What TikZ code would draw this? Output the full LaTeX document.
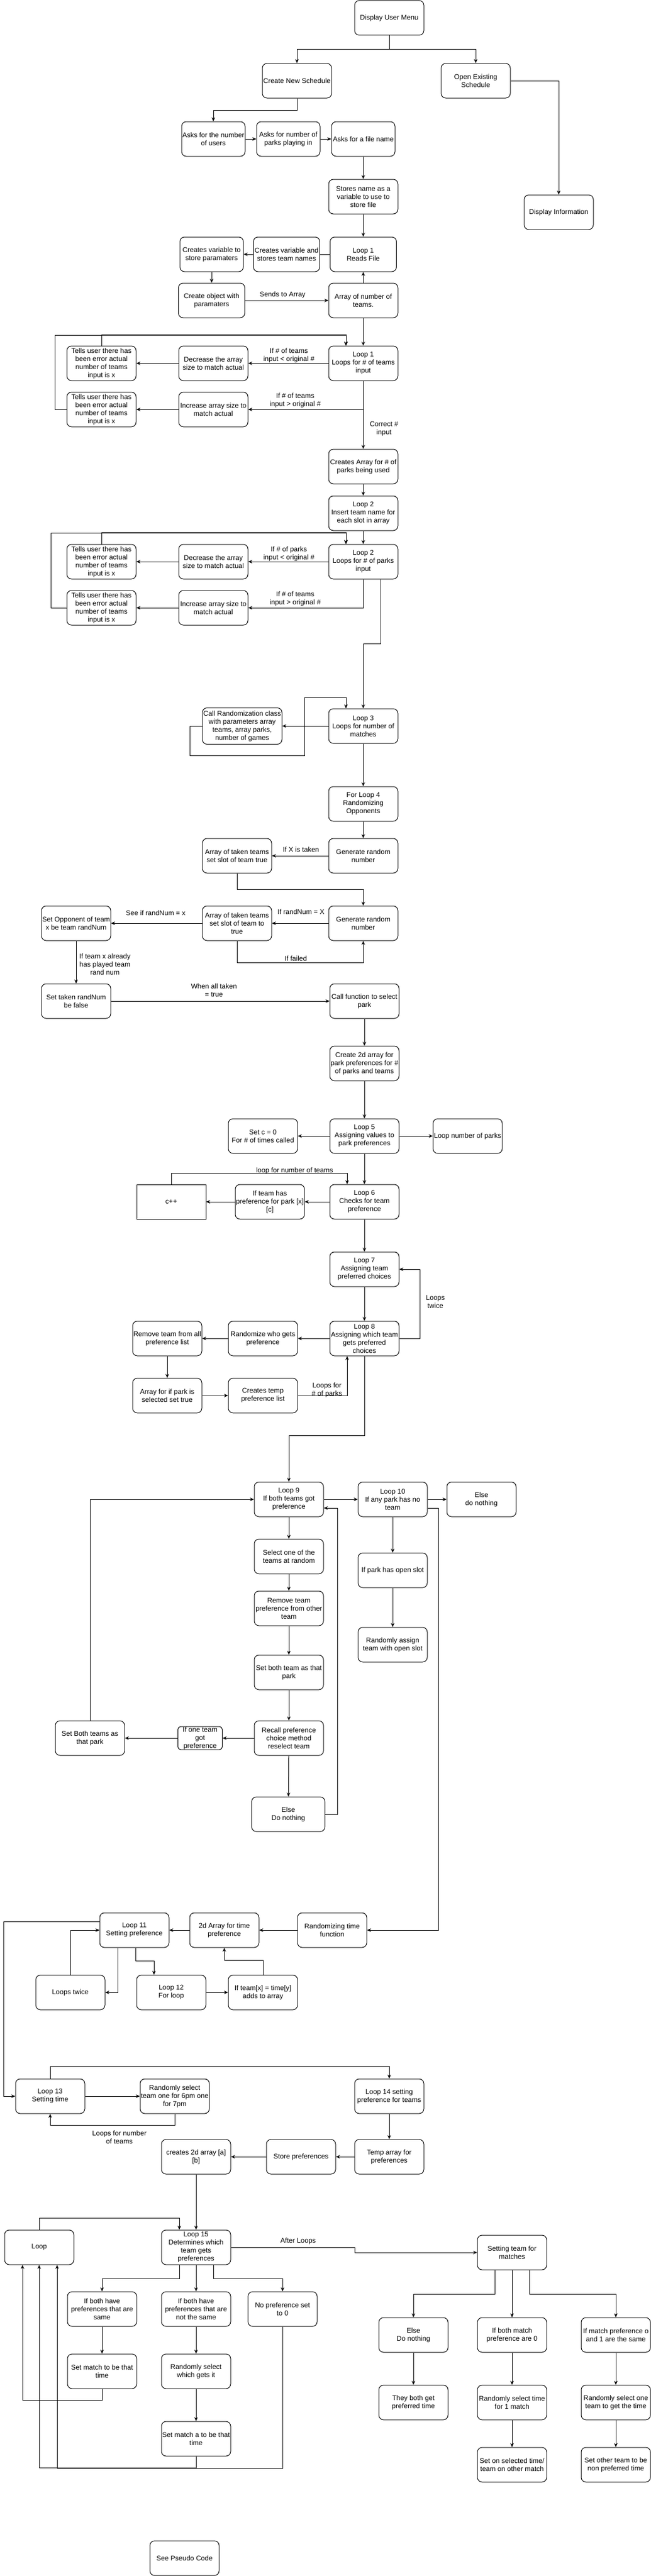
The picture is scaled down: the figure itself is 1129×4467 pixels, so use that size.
\documentclass[tikz,border=0pt]{standalone}
\usepackage{fontspec}
\setmainfont{Liberation Sans}
\usetikzlibrary{arrows.meta}

\tikzset{
  box/.style={draw, rounded corners=8pt, minimum width=120pt, minimum height=60pt,
    align=center, inner xsep=0pt, inner ysep=2pt, font=\fontsize{12}{14}\selectfont},
  lbl/.style={align=center, inner sep=0pt, font=\fontsize{12}{14}\selectfont},
  flow/.style={-{Stealth[length=7pt, width=6pt]}}
}

\begin{document}
\begin{tikzpicture}[x=1pt, y=-1pt, line width=1pt]
  \fill[white] (0, 0) rectangle (1129, 4467);
  \useasboundingbox (0, 0) rectangle (1129, 4467);

  % Menu
  \node[box] (dum) at (675, 31) {Display User Menu};
  \node[box] (cns) at (515, 140) {Create New Schedule};
  \node[box] (oes) at (825, 140) {Open Existing\\Schedule};
  \node[box] (dinfo) at (969, 368) {Display Information};
  \draw[flow] (dum.south) -- ++(0, 24) -| (cns.north);
  \draw[flow] (dum.south) -- ++(0, 24) -| (oes.north);
  \draw[flow] (oes.east) -| (dinfo.north);

  % Reading the input
  \node[box, minimum width=110pt] (askusr) at (370, 241) {Asks for the number\\of users};
  \node[box, minimum width=110pt] (askprk) at (500, 241) {Asks for number of\\parks playing in};
  \node[box, minimum width=110pt] (askfile) at (630, 241) {Asks for a file name};
  \node[box] (store) at (630, 341) {Stores name as a\\variable to use to\\store file};
  \node[box, minimum width=115pt] (readf) at (630, 441) {Loop 1\\Reads File};
  \node[box, minimum width=115pt] (mkteam) at (497, 441) {Creates variable and\\stores team names};
  \node[box, minimum width=110pt] (mkvar) at (367, 441) {Creates variable to\\store paramaters};
  \node[box, minimum width=115pt] (mkobj) at (367, 521) {Create object with\\paramaters};
  \node[box] (arrteam) at (630, 521) {Array of number of\\teams.};
  \draw[flow] (cns.south) -- ++(0, 21) -| (askusr.north);
  \draw[flow] (askusr) -- (askprk);
  \draw[flow] (askprk) -- (askfile);
  \draw[flow] (askfile) -- (store);
  \draw[flow] (store) -- (readf);
  \draw (readf) -- (mkteam);
  \draw[flow] (mkteam) -- (mkvar);
  \draw[flow] (mkvar) -- (mkobj);
  \draw[flow] (mkobj) -- (arrteam);
  \node[lbl] (lbsend) at (490, 511) {Sends to Array};
  \draw[flow] (arrteam) -- (readf);

  % Loop 1, number of teams
  \node[box] (loopa) at (630, 630) {Loop 1\\Loops for \# of teams\\input};
  \node[box] (deca) at (370, 630) {Decrease the array\\size to match actual};
  \node[box] (tella) at (176, 630) {Tells user there has\\been error actual\\number of teams\\input is x};
  \node[box] (inca) at (370, 710) {Increase array size to\\match actual};
  \node[box] (tellb) at (176, 710) {Tells user there has\\been error actual\\number of teams\\input is x};
  \draw[flow] (arrteam) -- (loopa);
  \draw[flow] (loopa) -- (deca);
  \draw[flow] (deca) -- (tella);
  \draw[flow] (loopa.south) |- (inca.east);
  \draw[flow] (inca) -- (tellb);
  \draw[flow] (tella.north) -- ++(0, -19) -| ([xshift=-30pt]loopa.north);
  \draw[flow] (tellb.west) -- ++(-20, 0) -- ++(0, -129) -| ([xshift=-30pt]loopa.north);
  \node[lbl] (lbtdec) at (501, 616) {If \# of teams\\input < original \#};
  \node[lbl] (lbtinc) at (512, 694) {If \# of teams\\input > original \#};
  \node[lbl] (lbok) at (666, 744) {Correct \#\\input};

  % Loop 2, number of parks
  \node[box] (arrpark) at (630, 809) {Creates Array for \# of\\parks being used};
  \node[box] (insert) at (630, 890) {Loop 2\\Insert team name for\\each slot in array};
  \node[box] (loopb) at (630, 974) {Loop 2\\Loops for \# of parks\\input};
  \node[box] (decb) at (370, 974) {Decrease the array\\size to match actual};
  \node[box] (tellc) at (176, 974) {Tells user there has\\been error actual\\number of teams\\input is x};
  \node[box] (incb) at (370, 1054) {Increase array size to\\match actual};
  \node[box] (telld) at (176, 1054) {Tells user there has\\been error actual\\number of teams\\input is x};
  \draw[flow] (loopa) -- (arrpark);
  \draw[flow] (arrpark) -- (insert);
  \draw[flow] (insert) -- (loopb);
  \draw[flow] (loopb) -- (decb);
  \draw[flow] (decb) -- (tellc);
  \draw[flow] (loopb.south) |- (incb.east);
  \draw[flow] (incb) -- (telld);
  \draw[flow] (tellc.north) -- ++(0, -20) -| ([xshift=-30pt]loopb.north);
  \draw[flow] (telld.west) -- ++(-27, 0) -- ++(0, -130) -| ([xshift=-30pt]loopb.north);
  \node[lbl] (lbpdec) at (501, 960) {If \# of parks\\input < original \#};
  \node[lbl] (lbpinc) at (512, 1038) {If \# of teams\\input > original \#};

  % Loop 3 and 4, matches and opponents
  \node[box] (loopc) at (630, 1259) {Loop 3\\Loops for number of\\matches};
  \node[box, minimum width=138pt, minimum height=63pt] (callrnd) at (420, 1259)
    {Call Randomization class\\with parameters array\\teams, array parks,\\number of games};
  \node[box] (loopd) at (630, 1394) {For Loop 4\\Randomizing\\Opponents};
  \node[box] (gena) at (630, 1484) {Generate random\\number};
  \node[box] (takena) at (411, 1484) {Array of taken teams\\set slot of team true};
  \node[box] (genb) at (630, 1601) {Generate random\\number};
  \node[box] (takenb) at (411, 1601) {Array of taken teams\\set slot of team to\\true};
  \node[box] (setopp) at (132, 1601) {Set Opponent of team\\x be team randNum};
  \node[box] (setfalse) at (132, 1736) {Set taken randNum\\be false};
  \node[box] (callpark) at (632, 1736) {Call function to select\\park};
  \draw[flow] ([xshift=30pt]loopb.south) -- ++(0, 112) -| (loopc.north);
  \draw[flow] (loopc) -- (callrnd);
  \draw[flow] (callrnd.west) -- ++(-21, 0) -- ++(0, 51) -- ++(199, 0) -- ++(0, -101)
    -| ([xshift=-30pt]loopc.north);
  \draw[flow] (loopc) -- (loopd);
  \draw[flow] (loopd) -- (gena);
  \draw[flow] (gena) -- (takena);
  \draw[flow] (takena.south) -- ++(0, 28) -| (genb.north);
  \draw[flow] (genb) -- (takenb);
  \draw[flow] (takenb) -- (setopp);
  \draw[flow] (takenb.south) -- ++(0, 38) -| (genb.south);
  \draw[flow] (setopp) -- (setfalse);
  \draw[flow] (setfalse) -- (callpark);
  \node[lbl] (lbtaken) at (522, 1473) {If X is taken};
  \node[lbl] (lbeqx) at (522, 1581) {If randNum = X};
  \node[lbl] (lbsee) at (270, 1583) {See if randNum = x};
  \node[lbl] (lbfail) at (513, 1662) {If failed};
  \node[lbl] (lbplayed) at (182, 1672) {If team x already\\has played team\\rand num};
  \node[lbl] (lballtaken) at (371, 1717) {When all taken\\= true};

  % Park preferences, loops 5 to 8
  \node[box] (prefarr) at (632, 1844) {Create 2d array for\\park preferences for \#\\of parks and teams};
  \node[box] (loope) at (632, 1970) {Loop 5\\Assigning values to\\park preferences};
  \node[box] (setc) at (456, 1970) {Set c = 0\\For \# of times called};
  \node[box] (parkloop) at (811, 1970) {Loop number of parks};
  \node[box] (loopf) at (632, 2084) {Loop 6\\Checks for team\\preference};
  \node[box] (haspref) at (468, 2084) {If team has\\preference for park [x]\\{}[c]};
  \node[box, sharp corners] (cinc) at (297, 2084) {c++};
  \node[box] (loopg) at (632, 2201) {Loop 7\\Assigning team\\preferred choices};
  \node[box] (looph) at (632, 2321) {Loop 8\\Assigning which team\\gets preferred\\choices};
  \node[box] (rndpref) at (456, 2321) {Randomize who gets\\preference};
  \node[box] (rmteam) at (290, 2321) {Remove team from all\\preference list};
  \node[box] (parksel) at (290, 2420) {Array for if park is\\selected set true};
  \node[box] (tmplist) at (456, 2420) {Creates temp\\preference list};
  \draw[flow] (callpark) -- (prefarr);
  \draw[flow] (prefarr) -- (loope);
  \draw[flow] (loope) -- (setc);
  \draw[flow] (loope) -- (parkloop);
  \draw[flow] (loope) -- (loopf);
  \draw[flow] (loopf) -- (haspref);
  \draw[flow] (haspref) -- (cinc);
  \draw[flow] (cinc.north) -- ++(0, -19) -| ([xshift=-30pt]loopf.north);
  \draw[flow] (loopf) -- (loopg);
  \draw[flow] (loopg) -- (looph);
  \draw[flow] (looph.east) -- ++(36, 0) |- (loopg.east);
  \draw[flow] (looph) -- (rndpref);
  \draw[flow] (rndpref) -- (rmteam);
  \draw[flow] (rmteam) -- (parksel);
  \draw[flow] (parksel) -- (tmplist);
  \draw[flow] (tmplist.east) -| ([xshift=-30pt]looph.south);
  \node[lbl] (lbnteams) at (511, 2030) {loop for number of teams};
  \node[lbl] (lbtwice) at (755, 2257) {Loops\\twice};
  \node[lbl] (lbnparks) at (567, 2410) {Loops for\\\# of parks};

  % Loop 9 and 10
  \node[box] (loopi) at (501, 2600) {Loop 9\\If both teams got\\preference};
  \node[box] (loopj) at (681, 2600) {Loop 10\\If any park has no\\team};
  \node[box] (elsea) at (835, 2600) {Else\\do nothing};
  \node[box] (pickteam) at (501, 2699) {Select one of the\\teams at random};
  \node[box] (rmpref) at (501, 2789) {Remove team\\preference from other\\team};
  \node[box] (setpark) at (501, 2900) {Set both team as that\\park};
  \node[box] (recall) at (501, 3014) {Recall preference\\choice method\\reselect team};
  \node[box, minimum width=77pt, minimum height=40pt, inner ysep=0pt, rounded corners=5pt]
    (onepref) at (347, 3014) {If one team\\got\\preference};
  \node[box] (bothpark) at (156, 3014) {Set Both teams as\\that park};
  \node[box, minimum width=127pt] (elseb) at (500, 3146) {Else\\Do nothing};
  \node[box] (openslot) at (681, 2723) {If park has open slot};
  \node[box] (assign) at (681, 2852) {Randomly assign\\team with open slot};
  \draw[flow] (looph.south) -- ++(0, 138) -| (loopi.north);
  \draw[flow] (loopi) -- (loopj);
  \draw[flow] (loopj) -- (elsea);
  \draw[flow] (loopi) -- (pickteam);
  \draw[flow] (pickteam) -- (rmpref);
  \draw[flow] (rmpref) -- (setpark);
  \draw[flow] (setpark) -- (recall);
  \draw[flow] (recall) -- (onepref);
  \draw[flow] (onepref) -- (bothpark);
  \draw[flow] (recall) -- (elseb);
  \draw[flow] (bothpark.north) |- (loopi.west);
  \draw[flow] (elseb.east) -- ++(21, 0) |- ([yshift=-15pt]loopi.east);
  \draw[flow] (loopj) -- (openslot);
  \draw[flow] (openslot) -- (assign);

  % Time preferences, loops 11 to 14
  \node[box] (rndtime) at (576, 3347) {Randomizing time\\function};
  \node[box] (timearr) at (389, 3347) {2d Array for time\\preference};
  \node[box] (loopk) at (233, 3347) {Loop 11\\Setting preference};
  \node[box] (twice) at (122, 3455) {Loops twice};
  \node[box] (loopl) at (297, 3455) {Loop 12\\For loop};
  \node[box] (addarr) at (456, 3455) {If team[x] = time[y]\\adds to array};
  \node[box] (loopm) at (87, 3635) {Loop 13\\Setting time};
  \node[box] (rndsel) at (303, 3635) {Randomly select\\team one for 6pm one\\for 7pm};
  \node[box] (loopn) at (675, 3635) {Loop 14 setting\\preference for teams};
  \node[box] (tmparr) at (675, 3740) {Temp array for\\preferences};
  \node[box] (storepref) at (522, 3740) {Store preferences};
  \node[box] (arrab) at (340, 3740) {creates 2d array [a]\\{}[b]};
  \draw[flow] ([yshift=-15pt]loopj.east) -- ++(19, 0) |- (rndtime.east);
  \draw[flow] (rndtime) -- (timearr);
  \draw[flow] (timearr) -- (loopk);
  \draw[flow] (twice.north) |- (loopk.west);
  \draw[flow] ([xshift=-29pt]loopk.south) |- (twice.east);
  \draw[flow] ([xshift=2pt]loopk.south) -- ++(0, 23) -| ([xshift=-30pt]loopl.north);
  \draw[flow] (loopl) -- (addarr);
  \draw[flow] (addarr.north) -- ++(0, -25) -| (timearr.south);
  \draw[flow] ([yshift=15pt]loopk.west) -- ++(-166, 0) |- (loopm.west);
  \draw[flow] (loopm) -- (rndsel);
  \draw[flow] (loopm.north) -- ++(0, -21) -| (loopn.north);
  \draw[flow] (rndsel.south) -- ++(0, 20) -| (loopm.south);
  \draw[flow] (loopn) -- (tmparr);
  \draw[flow] (tmparr) -- (storepref);
  \draw[flow] (storepref) -- (arrab);
  \node[lbl] (lbnteamsb) at (207, 3706) {Loops for number\\of teams};

  % Loop 15 and matches
  \node[box] (loopo) at (340, 3897) {Loop 15\\Determines which\\team gets\\preferences};
  \node[box] (loopbox) at (68, 3897) {Loop};
  \node[box] (setteam) at (888, 3906) {Setting team for\\matches};
  \node[box] (same) at (177, 4004) {If both have\\preferences that are\\same};
  \node[box] (notsame) at (340, 4004) {If both have\\preferences that are\\not the same};
  \node[box] (nopref) at (490, 4004) {No preference set\\to 0};
  \node[box] (setmatch) at (177, 4112) {Set match to be that\\time};
  \node[box] (whichget) at (340, 4112) {Randomly select\\which gets it};
  \node[box] (setmatcha) at (340, 4229) {Set match a to be that\\time};
  \node[box] (elsec) at (717, 4049) {Else\\Do nothing};
  \node[box] (zero) at (888, 4049) {If both match\\preference are 0};
  \node[box] (oone) at (1068, 4049) {If match preference o\\and 1 are the same};
  \node[box] (bothget) at (717, 4166) {They both get\\preferred time};
  \node[box] (rndone) at (888, 4166) {Randomly select time\\for 1 match};
  \node[box] (rndteam) at (1068, 4166) {Randomly select one\\team to get the time};
  \node[box] (setsel) at (888, 4274) {Set on selected time/\\team on other match};
  \node[box] (setother) at (1068, 4274) {Set other team to be\\non preferred time};
  \node[box] (pseudo) at (320, 4436) {See Pseudo Code};
  \draw[flow] (arrab) -- (loopo);
  \draw[flow] (loopbox.north) -- ++(0, -20) -| ([xshift=-29pt]loopo.north);
  \draw[flow] (loopo.east) -- ++(215, 0) |- (setteam.west);
  \draw[flow] ([xshift=-29pt]loopo.south) -- ++(0, 24) -| (same.north);
  \draw[flow] (loopo) -- (notsame);
  \draw[flow] ([xshift=30pt]loopo.south) -- ++(0, 24) -| (nopref.north);
  \draw[flow] (same) -- (setmatch);
  \draw[flow] (notsame) -- (whichget);
  \draw[flow] (whichget) -- (setmatcha);
  \draw[flow] (setmatch.south) -- ++(0, 20) -| ([xshift=-29pt]loopbox.south);
  \draw[flow] (setmatcha.south) -- ++(0, 20) -| (loopbox.south);
  \draw[flow] (nopref.south) -- ++(0, 246) -| ([xshift=31pt]loopbox.south);
  \draw[flow] ([xshift=-30pt]setteam.south) -- ++(0, 42) -| (elsec.north);
  \draw[flow] (setteam) -- (zero);
  \draw[flow] ([xshift=30pt]setteam.south) -- ++(0, 42) -| (oone.north);
  \draw[flow] (elsec) -- (bothget);
  \draw[flow] (zero) -- (rndone);
  \draw[flow] (rndone) -- (setsel);
  \draw[flow] (oone) -- (rndteam);
  \draw[flow] (rndteam) -- (setother);
  \node[lbl] (lbafter) at (517, 3886) {After Loops};
\end{tikzpicture}
\end{document}
